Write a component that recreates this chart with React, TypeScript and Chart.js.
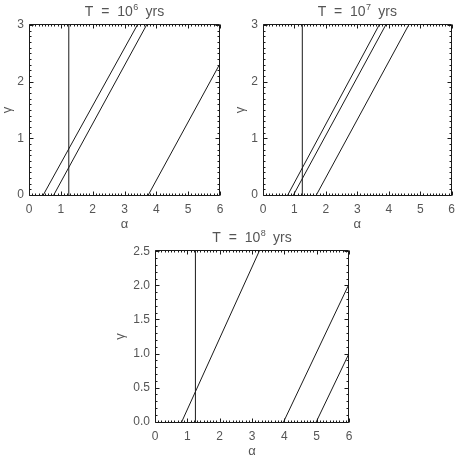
import React, { useEffect, useRef } from "react";
import { Chart, registerables } from "chart.js";

Chart.register(...registerables);

// ---------- data ----------
const ALPHA_TICKS = [0, 1, 2, 3, 4, 5, 6];
const GAMMA_TICKS_TOP = [0, 1, 2, 3];
const GAMMA_TICKS_BOTTOM = [0, 0.5, 1, 1.5, 2, 2.5];
const ALPHA_RANGE = [0, 6];
const GAMMA_RANGE_TOP = [-0.02, 3.02];
const GAMMA_RANGE_BOTTOM = [-0.02, 2.52];
const ALPHA_MINOR_STEP = 0.1;
const GAMMA_MINOR_STEP = 0.1;
const ALPHA_CUT = 1.25;

// T = 10^6 yrs
const T6_LINE_1 = [{ x: 0.43, y: -0.02 }, { x: 3.42, y: 3.02 }];
const T6_LINE_2 = [{ x: 0.76, y: -0.02 }, { x: 3.71, y: 3.02 }];
const T6_LINE_3 = [{ x: 3.73, y: -0.02 }, { x: 6.0, y: 2.32 }];

// T = 10^7 yrs
const T7_LINE_1 = [{ x: 0.77, y: -0.02 }, { x: 3.71, y: 3.02 }];
const T7_LINE_2 = [{ x: 0.95, y: -0.02 }, { x: 3.92, y: 3.02 }];
const T7_LINE_3 = [{ x: 1.68, y: -0.02 }, { x: 4.65, y: 3.02 }];

// T = 10^8 yrs
const T8_LINE_1 = [{ x: 0.81, y: -0.02 }, { x: 3.24, y: 2.52 }];
const T8_LINE_2 = [{ x: 3.96, y: -0.02 }, { x: 6.0, y: 2.02 }];
const T8_LINE_3 = [{ x: 4.97, y: -0.02 }, { x: 6.0, y: 1.0 }];

const EXPONENTS = ["6", "7", "8"];

// ---------- styling ----------
const FONT = "'Liberation Sans', Arial, sans-serif";
const TEXT_COLOR = "#555";
const LINE_COLOR = "#1a1a1a";

const framePlugin = {
  id: "idlFrame",
  afterDatasetsDraw(chart: any, _args: any, opts: any) {
    const { ctx, chartArea: a, scales } = chart;
    const xs = scales.x;
    const ys = scales.y;
    ctx.save();
    ctx.strokeStyle = LINE_COLOR;
    ctx.lineWidth = 1;
    const L = Math.round(a.left) + 0.5;
    const R = Math.round(a.right) - 0.5;
    const T = Math.round(a.top) + 0.5;
    const B = Math.round(a.bottom) - 0.5;
    ctx.beginPath();
    ctx.rect(L, T, R - L, B - T);
    ctx.stroke();

    const isMajor = (v: number, majors: number[]) =>
      majors.some((m) => Math.abs(m - v) < 1e-6);

    ctx.beginPath();
    // x ticks
    const xMajors: number[] = opts.xMajors;
    const xi0 = Math.ceil(xs.min / ALPHA_MINOR_STEP - 1e-6);
    const xi1 = Math.floor(xs.max / ALPHA_MINOR_STEP + 1e-6);
    for (let i = xi0; i <= xi1; i++) {
      const v = i * ALPHA_MINOR_STEP;
      const len = isMajor(v, xMajors) ? 4 : 2;
      const px = Math.round(xs.getPixelForValue(v)) + 0.5;
      ctx.moveTo(px, B);
      ctx.lineTo(px, B - len);
      ctx.moveTo(px, T);
      ctx.lineTo(px, T + len);
    }
    // y ticks
    const yMajors: number[] = opts.yMajors;
    const yi0 = Math.ceil(ys.min / GAMMA_MINOR_STEP - 1e-6);
    const yi1 = Math.floor(ys.max / GAMMA_MINOR_STEP + 1e-6);
    for (let i = yi0; i <= yi1; i++) {
      const v = i * GAMMA_MINOR_STEP;
      const len = isMajor(v, yMajors) ? 4 : 2;
      const py = Math.round(ys.getPixelForValue(v)) + 0.5;
      ctx.moveTo(L, py);
      ctx.lineTo(L + len, py);
      ctx.moveTo(R, py);
      ctx.lineTo(R - len, py);
    }
    ctx.stroke();

    // title: T = 10^n yrs
    const base = "T  =  10";
    const sup = opts.exponent;
    const tail = "  yrs";
    ctx.fillStyle = TEXT_COLOR;
    ctx.textBaseline = "alphabetic";
    ctx.textAlign = "left";
    ctx.font = `14px ${FONT}`;
    const wBase = ctx.measureText(base).width;
    const wTail = ctx.measureText(tail).width;
    ctx.font = `9px ${FONT}`;
    const wSup = ctx.measureText(sup).width;
    const total = wBase + wSup + wTail;
    const cx = (a.left + a.right) / 2;
    const by = a.top - 8;
    let x = cx - total / 2;
    ctx.font = `14px ${FONT}`;
    ctx.fillText(base, x, by);
    x += wBase + 0.5;
    ctx.font = `9px ${FONT}`;
    ctx.fillText(sup, x, by - 6);
    x += wSup - 0.5;
    ctx.font = `14px ${FONT}`;
    ctx.fillText(tail, x, by);
    ctx.restore();
  },
};

type PanelProps = {
  left: number;
  top: number;
  width: number;
  height: number;
  yAxisWidth: number;
  xAxisHeight: number;
  padRight: number;
  padTop: number;
  yTitlePad: number;
  xTitleLine: number;
  lines: { x: number; y: number }[][];
  gammaRange: number[];
  gammaTicks: number[];
  decimals: number;
  exponent: string;
};

function Panel(p: PanelProps) {
  const ref = useRef<HTMLCanvasElement | null>(null);
  useEffect(() => {
    if (!ref.current) return;
    const cut = [
      { x: ALPHA_CUT, y: p.gammaRange[0] },
      { x: ALPHA_CUT, y: p.gammaRange[1] },
    ];
    const datasets = [cut, ...p.lines].map((d) => ({
      data: d,
      showLine: true,
      borderColor: LINE_COLOR,
      borderWidth: 1,
      pointRadius: 0,
      fill: false,
    }));
    const chart = new Chart(ref.current, {
      type: "scatter",
      data: { datasets },
      plugins: [framePlugin],
      options: {
        responsive: false,
        animation: false,
        devicePixelRatio: 1,
        layout: {
          padding: { left: 0, top: p.padTop, right: p.padRight, bottom: 0 },
        },
        plugins: {
          legend: { display: false },
          tooltip: { enabled: false },
          title: { display: false },
          idlFrame: {
            exponent: p.exponent,
            xMajors: ALPHA_TICKS,
            yMajors: p.gammaTicks,
          },
        } as any,
        scales: {
          x: {
            type: "linear",
            min: ALPHA_RANGE[0],
            max: ALPHA_RANGE[1],
            grid: { display: false, drawTicks: false },
            border: { display: false },
            afterBuildTicks: (s: any) => {
              s.ticks = ALPHA_TICKS.map((v) => ({ value: v }));
            },
            afterFit: (s: any) => {
              s.height = p.xAxisHeight;
            },
            ticks: {
              color: TEXT_COLOR,
              font: { family: FONT, size: 12 },
              padding: 6,
              maxRotation: 0,
              autoSkip: false,
              callback: (v: any) => String(v),
            },
            title: {
              display: true,
              text: "α",
              color: TEXT_COLOR,
              font: { family: FONT, size: 13, lineHeight: `${p.xTitleLine}px` },
              padding: 0,
            },
          },
          y: {
            type: "linear",
            min: p.gammaRange[0],
            max: p.gammaRange[1],
            grid: { display: false, drawTicks: false },
            border: { display: false },
            afterBuildTicks: (s: any) => {
              s.ticks = p.gammaTicks.map((v) => ({ value: v }));
            },
            afterFit: (s: any) => {
              s.width = p.yAxisWidth;
            },
            ticks: {
              color: TEXT_COLOR,
              font: { family: FONT, size: 12 },
              padding: 5,
              autoSkip: false,
              callback: (v: any) => Number(v).toFixed(p.decimals),
            },
            title: {
              display: true,
              text: "γ",
              color: TEXT_COLOR,
              font: { family: FONT, size: 13, lineHeight: "12px" },
              padding: { top: p.yTitlePad, bottom: 0 },
            },
          },
        },
      } as any,
    });
    return () => chart.destroy();
  }, []);
  return (
    <div
      style={{
        position: "absolute",
        left: p.left,
        top: p.top,
        width: p.width,
        height: p.height,
      }}
    >
      <canvas
        ref={ref}
        width={p.width}
        height={p.height}
        style={{ display: "block", width: p.width, height: p.height }}
      />
    </div>
  );
}

export default function App() {
  return (
    <div
      style={{
        position: "absolute",
        left: 0,
        top: 0,
        width: 461,
        height: 457,
        background: "#fff",
        overflow: "hidden",
      }}
    >
      <Panel
        left={0}
        top={0}
        width={230}
        height={230}
        yAxisWidth={29}
        xAxisHeight={34}
        padRight={10}
        padTop={24}
        yTitlePad={1}
        xTitleLine={12}
        lines={[T6_LINE_1, T6_LINE_2, T6_LINE_3]}
        gammaRange={GAMMA_RANGE_TOP}
        gammaTicks={GAMMA_TICKS_TOP}
        decimals={0}
        exponent={EXPONENTS[0]}
      />
      <Panel
        left={230}
        top={0}
        width={231}
        height={230}
        yAxisWidth={33}
        xAxisHeight={34}
        padRight={6}
        padTop={24}
        yTitlePad={4}
        xTitleLine={12}
        lines={[T7_LINE_1, T7_LINE_2, T7_LINE_3]}
        gammaRange={GAMMA_RANGE_TOP}
        gammaTicks={GAMMA_TICKS_TOP}
        decimals={0}
        exponent={EXPONENTS[1]}
      />
      <Panel
        left={110}
        top={226}
        width={250}
        height={231}
        yAxisWidth={45}
        xAxisHeight={34}
        padRight={11}
        padTop={24}
        yTitlePad={4}
        xTitleLine={11}
        lines={[T8_LINE_1, T8_LINE_2, T8_LINE_3]}
        gammaRange={GAMMA_RANGE_BOTTOM}
        gammaTicks={GAMMA_TICKS_BOTTOM}
        decimals={1}
        exponent={EXPONENTS[2]}
      />
    </div>
  );
}
